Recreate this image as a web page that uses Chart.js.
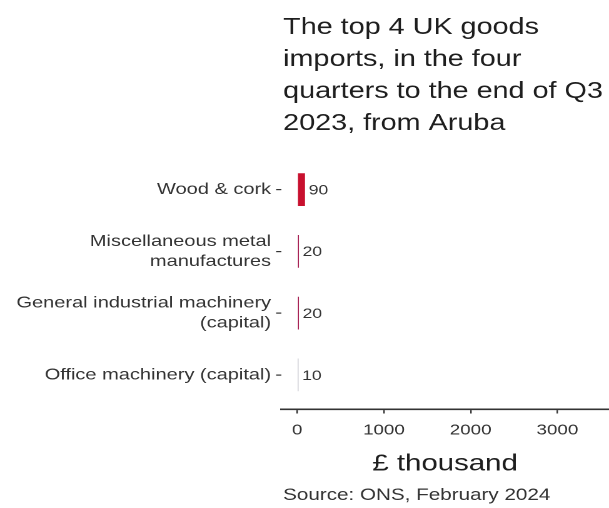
<!DOCTYPE html>
<html>
<head>
<meta charset="utf-8">
<script src="https://cdn.jsdelivr.net/npm/chart.js@4/dist/chart.umd.min.js"></script>
<style>
  html, body { margin: 0; padding: 0; background: #fff; overflow: hidden; }
  #chart { display: block; }
</style>
</head>
<body>
<!-- the reference is a horizontally stretched image, so draw narrow and stretch it -->
<canvas id="chart" width="487" height="508" style="width:609px;height:508px"></canvas>
<script>
// Data
const categories = [
  ["Wood & cork"],
  ["Miscellaneous metal", "manufactures"],
  ["General industrial machinery", "(capital)"],
  ["Office machinery (capital)"],
];
const values = [90, 20, 20, 10];
const xTicks = [0, 1000, 2000, 3000];
const titleLines = [
  "The top 4 UK goods",
  "imports, in the four",
  "quarters to the end of Q3",
  "2023, from Aruba",
];
const xTitle = "£ thousand";
const sourceText = "Source: ONS, February 2024";

// Styling
const FONT = '"Liberation Sans", Arial, sans-serif';
const barColours = ["#c8102e", "#a3174c", "#a3174c", "#9a9aa6"];

// Title, source note and value labels
const textPlugin = {
  id: "texts",
  afterDatasetsDraw(chart) {
    const ctx = chart.ctx;
    const meta = chart.getDatasetMeta(0);
    ctx.save();
    ctx.font = `14px ${FONT}`;
    ctx.fillStyle = "#333";
    ctx.textAlign = "left";
    ctx.textBaseline = "middle";
    meta.data.forEach((bar, i) => {
      ctx.fillText(String(values[i]), bar.x + 3, bar.y + 1);
    });
    ctx.restore();
  },
  afterDraw(chart) {
    const ctx = chart.ctx;
    const left = 226.4;
    ctx.save();
    ctx.textAlign = "left";
    ctx.textBaseline = "alphabetic";
    ctx.fillStyle = "#1e1e1e";
    ctx.font = `23px ${FONT}`;
    titleLines.forEach((line, i) => ctx.fillText(line, left, 34 + i * 32));
    ctx.fillStyle = "#333";
    ctx.font = `16.5px ${FONT}`;
    ctx.fillText(sourceText, left, 500);
    ctx.restore();
  },
};

const ctx = document.getElementById("chart").getContext("2d");
new Chart(ctx, {
  type: "bar",
  data: {
    datasets: [
      {
        data: values.map((v, i) => ({ x: v, y: i })),
        backgroundColor: barColours,
        borderWidth: 0,
        minBarLength: 1,
        barPercentage: 0.53,
        categoryPercentage: 1,
      },
    ],
  },
  options: {
    indexAxis: "y",
    responsive: false,
    animation: false,
    devicePixelRatio: 2,
    layout: { padding: { top: 155, bottom: 30, left: 0, right: 0 } },
    plugins: {
      legend: { display: false },
      tooltip: { enabled: false },
    },
    scales: {
      x: {
        type: "linear",
        min: -185,
        max: 3595,
        afterBuildTicks: (scale) => {
          scale.ticks = xTicks.map((v) => ({ value: v }));
        },
        afterFit: (scale) => {
          scale.height = 68.5;
        },
        grid: { drawOnChartArea: false, drawTicks: true, tickLength: 4, color: "#333", lineWidth: 1.2 },
        border: { display: true, color: "#333", width: 1.6 },
        ticks: {
          color: "#333",
          font: { family: FONT, size: 15 },
          padding: 8,
          maxRotation: 0,
          callback: (v) => String(v),
        },
        title: {
          display: true,
          text: xTitle,
          color: "#1e1e1e",
          font: { family: FONT, size: 23.5 },
          padding: { top: 0, bottom: 0 },
        },
      },
      y: {
        type: "linear",
        reverse: true,
        offset: false,
        min: -0.56,
        max: 3.56,
        afterBuildTicks: (scale) => {
          scale.ticks = categories.map((c, i) => ({ value: i }));
        },
        afterFit: (scale) => {
          scale.width = 224.8;
        },
        grid: {
          offset: false,
          drawOnChartArea: false,
          drawTicks: true,
          tickLength: 4,
          color: "#333",
          lineWidth: 1.2,
        },
        border: { display: false },
        ticks: {
          color: "#333",
          font: { family: FONT, size: 16, lineHeight: 1.25 },
          padding: 4,
          callback: (v) => categories[v],
        },
      },
    },
  },
  plugins: [textPlugin],
});
</script>
</body>
</html>
